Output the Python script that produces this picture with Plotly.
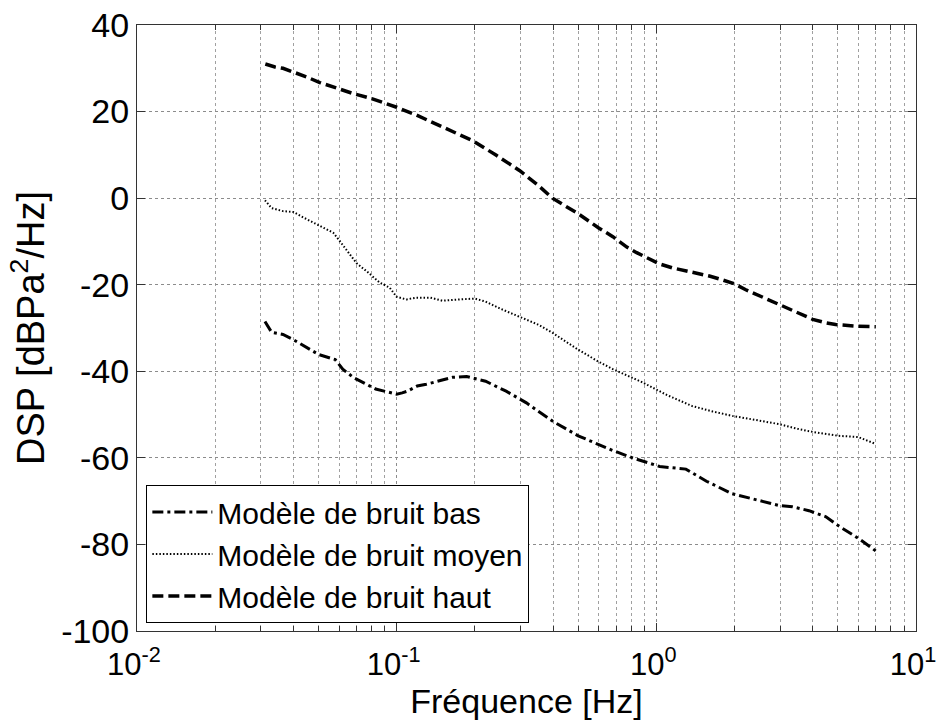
import plotly.graph_objects as go

# Frequency axis (Hz) and power spectral density (dB Pa^2/Hz) for each noise model
freq_bas = [0.0311, 0.033, 0.0365, 0.04, 0.05, 0.058, 0.062, 0.068, 0.083, 0.1,
            0.105, 0.11, 0.12, 0.13, 0.164, 0.186, 0.22, 0.264, 0.316, 0.398,
            0.5, 0.68, 0.81, 0.95, 1.03, 1.3, 1.56, 1.96, 2.5, 2.97, 3.34,
            3.87, 4.5, 5.0, 6.0, 7.0]
dsp_bas = [-28.5, -31.0, -31.5, -32.7, -36.1, -37.3, -39.5, -41.4, -44.1, -45.3,
           -45.0, -44.6, -43.4, -43.0, -41.4, -41.2, -42.3, -44.6, -47.3, -51.5,
           -54.9, -58.3, -60.0, -61.4, -62.0, -62.6, -65.4, -68.3, -69.9, -71.0, -71.3,
           -72.2, -73.6, -75.6, -78.6, -81.5]

freq_moyen = [0.0311, 0.033, 0.0365, 0.04, 0.0435, 0.05, 0.057, 0.06, 0.066, 0.07,
              0.077, 0.086, 0.094, 0.1, 0.109, 0.119, 0.135, 0.15, 0.175, 0.2,
              0.22, 0.25, 0.297, 0.35, 0.398, 0.5, 0.6, 0.68, 0.88, 1.1, 1.37,
              1.65, 1.96, 2.63, 2.97, 3.5, 4.0, 5.0, 6.0, 7.0]
dsp_moyen = [-0.5, -2.3, -3.0, -3.2, -4.4, -6.2, -8.0, -9.7, -13.1, -15.0,
             -17.0, -19.5, -20.7, -22.8, -23.4, -23.0, -23.0, -23.7, -23.4, -23.2,
             -23.9, -25.5, -27.4, -29.2, -31.1, -35.0, -37.8, -39.5, -42.5, -45.5, -48.0,
             -49.3, -50.3, -51.7, -52.2, -53.3, -54.0, -54.9, -55.2, -56.8]

freq_haut = [0.0312, 0.034, 0.0365, 0.0398, 0.045, 0.0506, 0.058, 0.0677, 0.08, 0.09,
             0.1, 0.119, 0.15, 0.196, 0.242, 0.297, 0.35, 0.398, 0.5, 0.6, 0.68,
             0.77, 0.84, 0.95, 1.03, 1.15, 1.3, 1.46, 1.6, 1.8, 2.0, 2.2, 2.4,
             2.97, 3.5, 4.0, 4.5, 4.9, 6.0, 7.0]
dsp_haut = [31.0, 30.3, 30.0, 29.2, 28.0, 26.7, 25.5, 24.2, 23.0, 22.0,
            21.0, 19.2, 16.5, 13.3, 9.9, 6.4, 3.0, 0.0, -3.6, -6.9, -8.9,
            -11.3, -12.6, -14.3, -15.2, -16.1, -16.8, -17.3, -18.0, -18.9, -19.8, -21.1, -22.1,
            -24.6, -26.5, -28.0, -28.8, -29.2, -29.6, -29.7]

series_names = ["Modèle de bruit bas", "Modèle de bruit moyen", "Modèle de bruit haut"]

x_tick_vals = [0.01, 0.1, 1, 10]
x_tick_text = ["10<sup>-2</sup>", "10<sup>-1</sup>", "10<sup>0</sup>", "10<sup>1</sup>"]
x_minor_vals = [m * 10 ** e for e in (-2, -1, 0) for m in range(2, 10)]
y_tick_vals = [-100, -80, -60, -40, -20, 0, 20, 40]
y_tick_text = ["-100", "-80", "-60", "-40", "-20", "0", "20", "40"]

FONT = "Liberation Sans, Arial, Helvetica, sans-serif"
AXIS_COLOR = "#333333"

fig = go.Figure()
fig.add_trace(go.Scatter(x=freq_bas, y=dsp_bas, mode="lines", name=series_names[0],
                         line=dict(color="black", width=3, dash="11px,4px,3px,4px")))
fig.add_trace(go.Scatter(x=freq_moyen, y=dsp_moyen, mode="lines", name=series_names[1],
                         line=dict(color="black", width=2, dash="1.5px,2px")))
fig.add_trace(go.Scatter(x=freq_haut, y=dsp_haut, mode="lines", name=series_names[2],
                         line=dict(color="black", width=3.5, dash="11px,5px")))

fig.update_layout(
    width=939, height=725,
    margin=dict(l=137, r=23, t=25, b=94),
    paper_bgcolor="white", plot_bgcolor="white",
    font=dict(family=FONT, size=34, color="black"),
    showlegend=True,
    legend=dict(
        x=0.012, y=0.013, xanchor="left", yanchor="bottom",
        bgcolor="white", bordercolor="black", borderwidth=1,
        font=dict(family=FONT, size=30, color="black"),
        itemwidth=60, tracegroupgap=0,
    ),
)

fig.update_xaxes(
    type="log", range=[-2, 1], automargin=False,
    tickmode="array", tickvals=x_tick_vals, ticktext=x_tick_text,
    ticks="inside", ticklen=8, tickcolor=AXIS_COLOR,
    ticklabeloverflow="allow", ticklabelstandoff=6, ticklabelshift=-3,
    showline=True, linecolor=AXIS_COLOR, linewidth=1, mirror="ticks",
    showgrid=True, gridcolor="#8c8c8c", griddash="dot", gridwidth=1,
    minor=dict(tickvals=x_minor_vals, ticks="inside", ticklen=5, tickcolor=AXIS_COLOR,
               showgrid=True, gridcolor="#a0a0a0", griddash="dot", gridwidth=1),
    tickfont=dict(size=31),
    title=dict(text="Fréquence [Hz]", font=dict(size=34), standoff=2),
    zeroline=False,
)
fig.update_yaxes(
    range=[-100, 40], automargin=False,
    tickmode="array", tickvals=y_tick_vals, ticktext=y_tick_text,
    ticks="inside", ticklen=8, tickcolor=AXIS_COLOR,
    showline=True, linecolor=AXIS_COLOR, linewidth=1, mirror="ticks",
    showgrid=True, gridcolor="#8c8c8c", griddash="dot", gridwidth=1,
    tickfont=dict(size=34),
    title=dict(text="DSP [dBPa<sup>2</sup>/Hz]", font=dict(size=38), standoff=4),
    zeroline=False,
)

fig.write_html("out.html")
